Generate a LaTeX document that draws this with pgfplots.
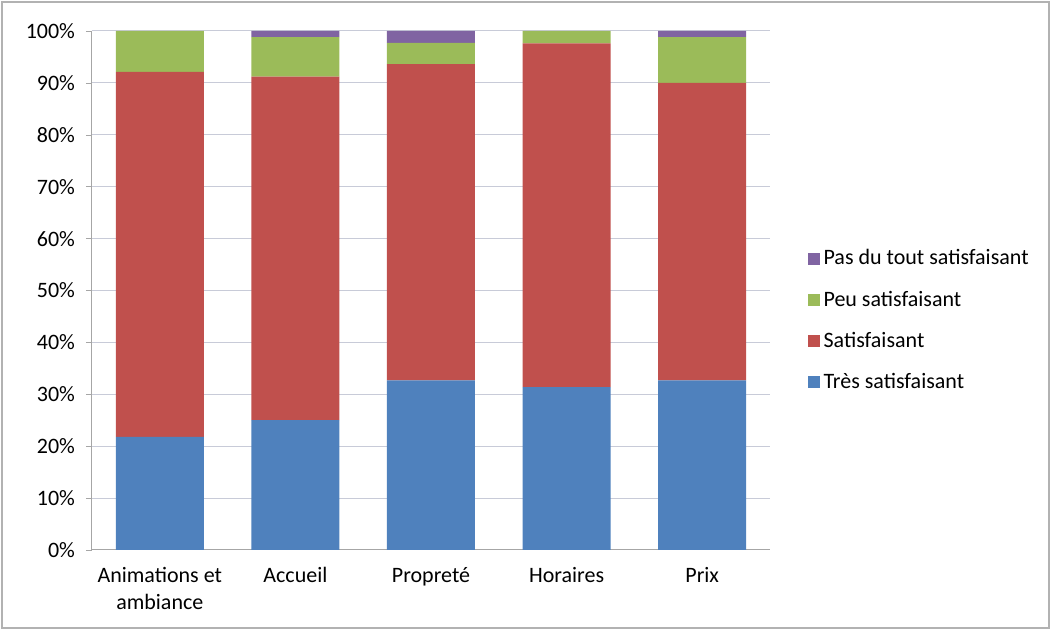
\documentclass[border=0pt]{standalone}
\usepackage{pgfplots}
\pgfplotsset{compat=1.18}
\usepackage{fontspec}
\setmainfont{Carlito}
\definecolor{cBlue}{HTML}{4F81BD}
\definecolor{cRed}{HTML}{C0504D}
\definecolor{cGreen}{HTML}{9BBB59}
\definecolor{cPurple}{HTML}{8064A2}
\definecolor{gridc}{HTML}{C8CBD8}
\begin{document}
\begin{tikzpicture}
% picture frame, 1 px = 0.5pt
\draw[gray!60, line width=0.8pt] (-45pt,-39pt) rectangle (478.5pt,274pt);
\path[use as bounding box] (-46pt,-40pt) rectangle (479.5pt,275pt);
\begin{axis}[
  at={(0,0)}, anchor=south west,
  scale only axis,
  width=339pt, height=259.5pt,
  ybar stacked,
  bar width=44pt,
  xmin=-0.5, xmax=4.5,
  ymin=0, ymax=100,
  ytick={0,10,...,100},
  yticklabel={\pgfmathprintnumber{\tick}\%},
  xtick=data,
  xticklabels={{Animations et\\ambiance},Accueil,Propreté,Horaires,Prix},
  xticklabel style={align=center, font=\fontsize{11}{13.5}\selectfont, yshift=-2pt},
  yticklabel style={font=\fontsize{11}{13.5}\selectfont, xshift=-2pt},
  /pgf/number format/assume math mode=true,
  ymajorgrids=true,
  grid style={gridc, line width=0.5pt},
  axis x line*=bottom,
  axis y line*=left,
  axis line style={gray!70, line width=0.5pt},
  x axis line style={-},
  y axis line style={-},
  major tick length=3pt,
  xtick style={draw=none},
  ytick style={gray!70},
  tick align=outside,
  legend style={draw=none, fill=none, at={(1.046,0.595)}, anchor=north west,
    font=\fontsize{11}{13}\selectfont, row sep=7.5pt,
    legend cell align=left},
  legend image code/.code={\fill[#1] (0pt,-3pt) rectangle (6pt,3pt);},
  reverse legend,
]
\addplot[fill=cBlue, draw=none] coordinates {(0,21.8) (1,25.0) (2,32.7) (3,31.4) (4,32.7)};
\addplot[fill=cRed, draw=none] coordinates {(0,70.3) (1,66.2) (2,60.9) (3,66.2) (4,57.3)};
\addplot[fill=cGreen, draw=none] coordinates {(0,7.9) (1,7.6) (2,4.1) (3,2.4) (4,8.8)};
\addplot[fill=cPurple, draw=none] coordinates {(0,0) (1,1.2) (2,2.3) (3,0) (4,1.2)};
\legend{Très satisfaisant,Satisfaisant,Peu satisfaisant,Pas du tout satisfaisant}
\end{axis}
\end{tikzpicture}
\end{document}
